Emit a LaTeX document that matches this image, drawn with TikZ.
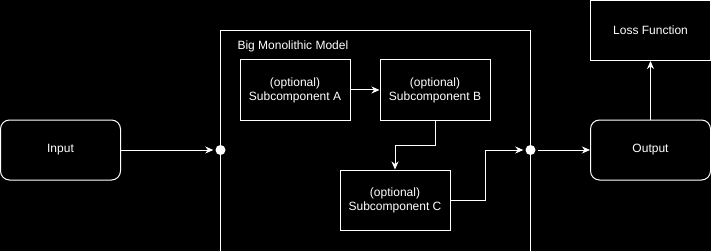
\documentclass[tikz,border=0pt]{standalone}
\usepackage{fontspec}
\setmainfont{Liberation Sans}
\usetikzlibrary{arrows.meta}
\begin{document}
\begin{tikzpicture}[x=1pt,y=-1pt,
  every node/.style={text=white,font=\fontsize{12}{14}\selectfont},
  box/.style={draw=white,line width=1pt,minimum width=110pt,minimum height=60pt,align=center,inner sep=0pt},
  rbox/.style={box,minimum width=120pt,rounded corners=9pt},
  lbox/.style={box,minimum width=120pt},
  dot/.style={circle,fill=white,draw=none,minimum size=10pt,inner sep=0pt},
  arr/.style={draw=white,line width=1pt,-{Stealth[length=8pt,width=7pt,inset=2.5pt]}}]
\useasboundingbox (0,0) rectangle (711,251);
\fill[black] (0,0) rectangle (711,251);
\clip (0,0) rectangle (711,251);
% big model frame
\draw[white,line width=1pt] (220.5,280) -- (220.5,30.5) -- (530.5,30.5) -- (530.5,280);
\node[anchor=west] (title) at (234,46) {Big Monolithic Model};
\node[rbox] (in) at (60.5,150) {Input};
\node[box] (A) at (295,90) {(optional)\\Subcomponent A};
\node[box] (B) at (435,90) {(optional)\\Subcomponent B};
\node[box] (C) at (395,200) {(optional)\\Subcomponent C};
\node[rbox] (out) at (650.5,150) {Output};
\node[lbox] (loss) at (650.5,30.5) {Loss Function};
\node[dot] (ld) at (220.5,150) {};
\node[dot] (rd) at (530.5,150) {};
\draw[arr] (in.east) -- ([xshift=-2pt]ld.west);
\draw[arr] (A.east) -- (B.west);
\draw[arr] (B.south) -- ++(0,25) -| (C.north);
\draw[arr] (C.east) -- ++(35,0) |- ([xshift=-2pt]rd.west);
\draw[arr] ([xshift=2pt]rd.east) -- (out.west);
\draw[arr] (out.north) -- (loss.south);
\end{tikzpicture}
\end{document}
